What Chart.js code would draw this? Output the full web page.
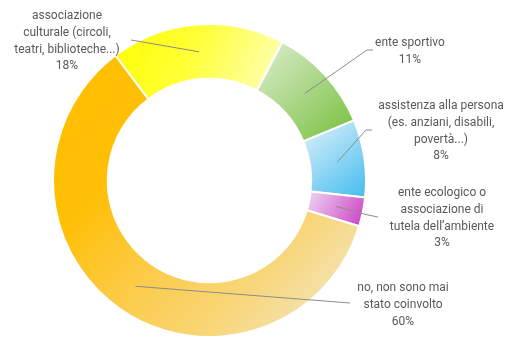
<!DOCTYPE html>
<html>
<head>
<meta charset="utf-8">
<script src="https://cdn.jsdelivr.net/npm/chart.js@4.4.1/dist/chart.umd.min.js"></script>
<style>
  body { margin: 0; background: #fff; }
  canvas { display: block; }
</style>
</head>
<body>
<canvas id="ringChart" width="505" height="338"></canvas>
<script>
// Data
const categories = [
    'associazione culturale (circoli, teatri, biblioteche...)',
    'ente sportivo',
    'assistenza alla persona (es. anziani, disabili, povertà...)',
    'ente ecologico o associazione di tutela dell’ambiente',
    'no, non sono mai stato coinvolto'
];
const values = [18, 11, 8, 3, 60];
const labelLines = [
    ['associazione', 'culturale (circoli,', 'teatri, biblioteche...)'],
    ['ente sportivo'],
    ['assistenza alla persona', '(es. anziani, disabili,', 'povertà...)'],
    ['ente ecologico o', 'associazione di', 'tutela dell’ambiente'],
    ['no, non sono mai', 'stato coinvolto']
];

// Gradient stops for each slice (top-left -> bottom-right of the slice)
const sliceStops = [
    [[0, '#FFFF00'], [0.45, '#FFFF38'], [1, '#FFFFC6']],
    [[0, '#DDEED2'], [1, '#76BF3A']],
    [[0, '#E4F3FB'], [1, '#43BCEE']],
    [[0, '#EFD8F2'], [1, '#CB3DC5']],
    [[0, '#FFBE00'], [0.3, '#FFBF06'], [0.5, '#FCCA44'], [0.72, '#F8D678'], [1, '#F1E9D4']]
];

const ROTATION = -37;
const CUTOUT = 0.65;
const BORDER = 2;

// Label placement: first line centre, line height and leader line bend points
const labelPos = [
    { x: 67, y: 16, leader: [[131, 40]] },
    { x: 410, y: 43, leader: [[367, 50], [373, 50]] },
    { x: 441, y: 106, leader: [[366, 130], [372, 130]] },
    { x: 442, y: 193, leader: [[368, 215], [378, 217]] },
    { x: 403, y: 288, leader: [[350, 303]] }
];
const LINE_H = 16.8;

function sliceGradient(context) {
    const chart = context.chart;
    const area = chart.chartArea;
    const i = context.dataIndex;
    const stops = sliceStops[i];
    if (!area) return stops[0][1];

    const cx = (area.left + area.right) / 2;
    const cy = (area.top + area.bottom) / 2;
    const outer = Math.max((Math.min(area.right - area.left, area.bottom - area.top) - BORDER) / 2, 0);
    const inner = outer * CUTOUT;

    const total = values.reduce((a, b) => a + b, 0);
    let start = -Math.PI / 2 + ROTATION * Math.PI / 180;
    for (let k = 0; k < i; k++) start += values[k] / total * Math.PI * 2;
    const end = start + values[i] / total * Math.PI * 2;

    // bounding box of the slice
    let minX = Infinity, minY = Infinity, maxX = -Infinity, maxY = -Infinity;
    for (let s = 0; s <= 40; s++) {
        const a = start + (end - start) * s / 40;
        [inner, outer].forEach(r => {
            const px = cx + Math.cos(a) * r;
            const py = cy + Math.sin(a) * r;
            minX = Math.min(minX, px); maxX = Math.max(maxX, px);
            minY = Math.min(minY, py); maxY = Math.max(maxY, py);
        });
    }

    const g = chart.ctx.createLinearGradient(minX, minY, maxX, maxY);
    stops.forEach(([p, c]) => g.addColorStop(p, c));
    return g;
}

// Draws the callout labels with their leader lines
const calloutLabels = {
    id: 'calloutLabels',
    afterDatasetsDraw(chart) {
        const ctx = chart.ctx;
        const arcs = chart.getDatasetMeta(0).data;
        ctx.save();
        arcs.forEach((arc, i) => {
            const pos = labelPos[i];
            const from = arc.tooltipPosition();

            ctx.beginPath();
            ctx.strokeStyle = '#8c8c8c';
            ctx.lineWidth = 1;
            ctx.moveTo(from.x, from.y);
            pos.leader.forEach(([x, y]) => ctx.lineTo(x, y));
            ctx.stroke();

            const lines = labelLines[i].concat([values[i] + '%']);
            ctx.fillStyle = '#595959';
            ctx.font = '12px Roboto, sans-serif';
            ctx.textAlign = 'center';
            ctx.textBaseline = 'middle';
            lines.forEach((t, n) => ctx.fillText(t, pos.x, pos.y + n * LINE_H));
        });
        ctx.restore();
    }
};

const ringCtx = document.getElementById('ringChart').getContext('2d');
const ringChart = new Chart(ringCtx, {
    type: 'doughnut',
    data: {
        labels: categories,
        datasets: [{
            data: values,
            backgroundColor: sliceGradient,
            borderColor: '#ffffff',
            borderWidth: BORDER
        }]
    },
    options: {
        responsive: false,
        animation: false,
        rotation: ROTATION,
        cutout: (CUTOUT * 100) + '%',
        layout: {
            padding: { left: 52, right: 138, top: 23, bottom: 0 }
        },
        plugins: {
            legend: { display: false },
            tooltip: { enabled: false }
        }
    },
    plugins: [calloutLabels]
});
</script>
</body>
</html>
